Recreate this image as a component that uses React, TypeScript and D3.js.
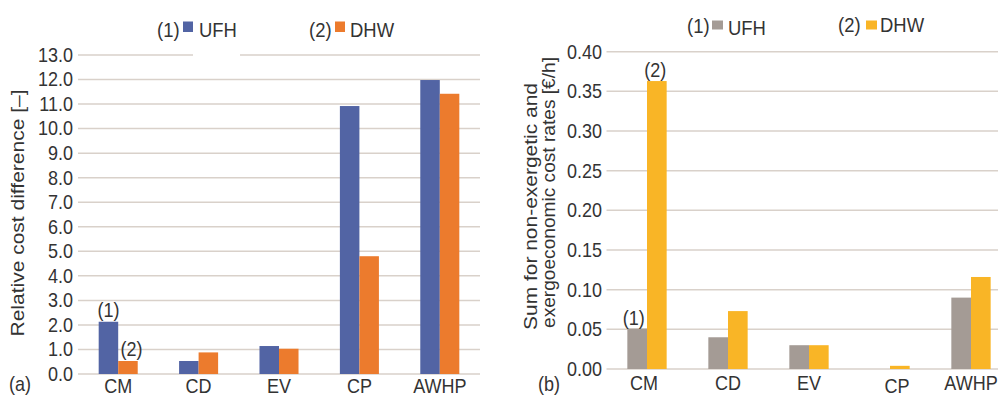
import React from "react";
import * as d3 from "d3";

const categories = ["CM", "CD", "EV", "CP", "AWHP"];
const seriesNames = ["UFH", "DHW"];
const leftUFH = [2.13, 0.53, 1.14, 10.92, 11.98];
const leftDHW = [0.53, 0.88, 1.03, 4.8, 11.42];
const rightUFH = [0.051, 0.04, 0.03, 0.0, 0.09];
const rightDHW = [0.363, 0.073, 0.03, 0.004, 0.116];
const leftTicks = [0, 1, 2, 3, 4, 5, 6, 7, 8, 9, 10, 11, 12, 13];
const rightTicks = [0, 0.05, 0.1, 0.15, 0.2, 0.25, 0.3, 0.35, 0.4];

const FONT = "'Liberation Sans', Arial, sans-serif";
const TEXT = "#333333";
const GRID = "#d9d1ca";

interface TProps {
  x: number;
  y: number;
  size?: number;
  sx?: number;
  anchor?: "start" | "middle" | "end";
  baseline?: string;
  children: React.ReactNode;
}

function T({ x, y, size = 20, sx = 0.9, anchor = "start", baseline, children }: TProps) {
  return (
    <text
      transform={`translate(${x},${y}) scale(${sx},1)`}
      textAnchor={anchor}
      dominantBaseline={baseline}
      fontSize={size}
      fill={TEXT}
      fontFamily={FONT}
    >
      {children}
    </text>
  );
}

interface PanelProps {
  xRange: [number, number];
  yRange: [number, number];
  yMax: number;
  ticks: number[];
  fmt: (v: number) => string;
  ufh: number[];
  dhw: number[];
  colors: [string, string];
  gridEnd: number;
  labelX: number;
  catBaseline: number;
  catAdjust?: Record<string, [number, number]>;
  annotations: { series: number; cat: number; text: string; dx: number; dy: number }[];
}

function Panel(p: PanelProps) {
  const x0 = d3.scaleBand<string>().domain(categories).range(p.xRange).padding(0);
  const x1 = d3
    .scaleBand<string>()
    .domain(seriesNames)
    .range([0, x0.bandwidth()])
    .paddingInner(0)
    .paddingOuter(1.06);
  const y = d3.scaleLinear().domain([0, p.yMax]).range(p.yRange);
  const data = [p.ufh, p.dhw];
  return (
    <g>
      {p.ticks.map((t) => (
        <g key={t}>
          <line x1={p.xRange[0]} x2={p.gridEnd} y1={y(t)} y2={y(t)} stroke={GRID} strokeWidth={1.5} />
          <T x={p.labelX} y={y(t)} anchor="end" baseline="central">
            {p.fmt(t)}
          </T>
        </g>
      ))}
      {categories.map((c, ci) =>
        seriesNames.map((s, si) => {
          const v = data[si][ci];
          const bx = (x0(c) ?? 0) + (x1(s) ?? 0);
          return (
            <rect
              key={c + s}
              x={bx}
              y={y(v)}
              width={x1.bandwidth()}
              height={Math.max(0, y(0) - y(v))}
              fill={p.colors[si]}
            />
          );
        })
      )}
      {categories.map((c) => {
        const adj = (p.catAdjust && p.catAdjust[c]) || [0, 0];
        return (
          <T
            key={c}
            x={(x0(c) ?? 0) + x0.bandwidth() / 2 + adj[0]}
            y={p.catBaseline + adj[1]}
            anchor="middle"
          >
            {c}
          </T>
        );
      })}
      {p.annotations.map((a, i) => {
        const c = categories[a.cat];
        const s = seriesNames[a.series];
        const v = data[a.series][a.cat];
        const cx = (x0(c) ?? 0) + (x1(s) ?? 0) + x1.bandwidth() / 2;
        return (
          <T key={i} x={cx + a.dx} y={y(v) + a.dy} anchor="middle">
            {a.text}
          </T>
        );
      })}
    </g>
  );
}

export default function App() {
  return (
    <svg
      width={998}
      height={396}
      style={{ position: "absolute", left: 0, top: 0, background: "#fff" }}
    >
      <rect x={0} y={0} width={998} height={396} fill="#fff" />
      {/* Left panel */}
      <Panel
        xRange={[78, 480]}
        yRange={[374, 55]}
        yMax={13}
        ticks={leftTicks}
        fmt={(v) => d3.format(".1f")(v)}
        ufh={leftUFH}
        dhw={leftDHW}
        colors={["#5264a4", "#ec7b2d"]}
        gridEnd={480}
        labelX={73}
        catBaseline={393}
        annotations={[
          { series: 0, cat: 0, text: "(1)", dx: 0, dy: -5 },
          { series: 1, cat: 0, text: "(2)", dx: 3.5, dy: -5 },
        ]}
      />
      <rect x={193} y={52} width={47} height={6} fill="#fff" />
      <text
        x={17}
        y={213}
        transform="rotate(-90 17 213)"
        textAnchor="middle"
        dominantBaseline="central"
        fontSize={19}
        textLength={247}
        lengthAdjust="spacingAndGlyphs"
        fill={TEXT}
        fontFamily={FONT}
      >
        Relative cost difference [–]
      </text>
      <T x={9} y={391}>(a)</T>
      {/* Left legend */}
      <T x={157} y={36.5} size={20.5}>(1)</T>
      <rect x={183} y={21.5} width={10} height={10.5} fill="#5264a4" />
      <T x={199} y={37} size={20.5}>UFH</T>
      <T x={309} y={36.5} size={20.5}>(2)</T>
      <rect x={335} y={21.5} width={10} height={10.5} fill="#ec7b2d" />
      <T x={350} y={37} size={20.5}>DHW</T>

      {/* Right panel */}
      <Panel
        xRange={[606.5, 1011.5]}
        yRange={[369, 51.7]}
        yMax={0.4}
        ticks={rightTicks}
        fmt={(v) => d3.format(".2f")(v)}
        ufh={rightUFH}
        dhw={rightDHW}
        colors={["#a49b95", "#f9b526"]}
        gridEnd={998}
        labelX={602}
        catBaseline={390}
        catAdjust={{ CM: [-3, 0], CP: [7, 3] }}
        annotations={[
          { series: 0, cat: 0, text: "(1)", dx: -3.5, dy: -4 },
          { series: 1, cat: 0, text: "(2)", dx: -1.5, dy: -4 },
        ]}
      />
      <text
        x={530}
        y={330}
        transform="rotate(-90 530 330)"
        textAnchor="start"
        dominantBaseline="central"
        fontSize={18.5}
        textLength={247}
        lengthAdjust="spacingAndGlyphs"
        fill={TEXT}
        fontFamily={FONT}
      >
        Sum for non-exergetic and
      </text>
      <text
        x={548}
        y={328}
        transform="rotate(-90 548 328)"
        textAnchor="start"
        dominantBaseline="central"
        fontSize={18.5}
        textLength={271}
        lengthAdjust="spacingAndGlyphs"
        fill={TEXT}
        fontFamily={FONT}
      >
        exergoeconomic cost rates [€/h]
      </text>
      <T x={538} y={391}>(b)</T>
      {/* Right legend */}
      <T x={687} y={33} size={20.5}>(1)</T>
      <rect x={712} y={20.5} width={11} height={9} fill="#a49b95" />
      <T x={728} y={35} size={20.5}>UFH</T>
      <T x={838} y={32} size={20.5}>(2)</T>
      <rect x={866} y={20.5} width={11} height={9} fill="#f9b526" />
      <T x={880} y={32} size={20.5}>DHW</T>
    </svg>
  );
}
